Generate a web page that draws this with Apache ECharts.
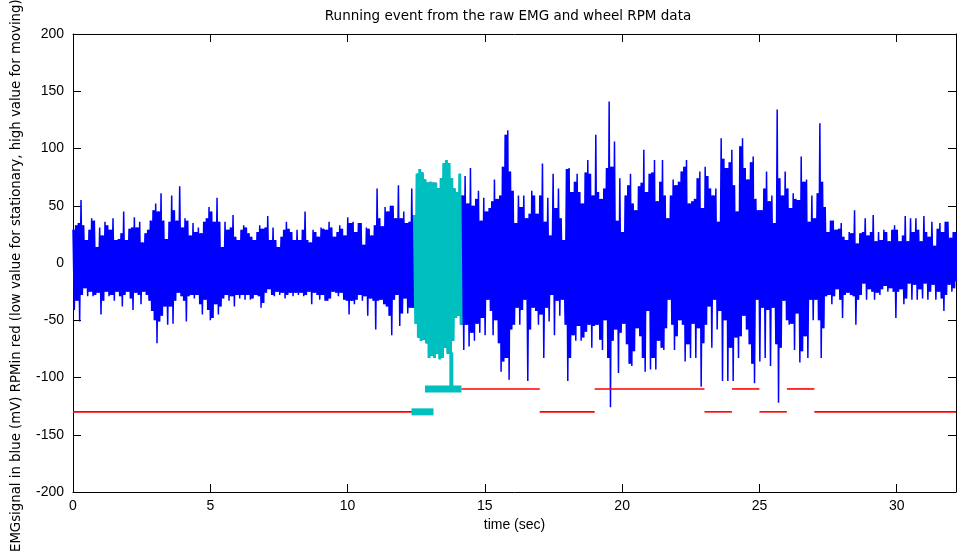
<!DOCTYPE html>
<html>
<head>
<meta charset="utf-8">
<title>Running event from the raw EMG and wheel RPM data</title>
<script src="https://cdn.jsdelivr.net/npm/echarts@6/dist/echarts.min.js"></script>
<style>
  html, body { margin: 0; padding: 0; background: #fff; }
  #chart { width: 957px; height: 556px; }
</style>
</head>
<body>
<div id="chart"></div>
<script>
// EMG envelope: peak (upper) and trough (lower) value in each time bin, mV
const emgStep = 0.09715; // seconds per bin
const emgUpper = [
  29,33,35,55,33,20,29,39,37,14, 31,24,36,33,29,39,20,21,26,45,
  20,30,31,40,31,36,18,26,29,37, 46,52,45,61,37,21,36,59,46,37,
  67,31,39,37,24,35,27,31,26,36, 39,49,45,36,57,36,14,36,29,31,
  42,23,20,29,33,31,26,23,20,27, 33,30,31,41,20,31,20,14,23,29,
  36,30,27,20,29,20,29,45,20,18, 29,27,23,31,30,29,36,31,23,27,
  33,30,24,40,35,36,27,35,35,16, 31,30,
  24,33,65,39,32,49,45,50,50,39, 68,39,45,35,36,65,42,78,82,79,
  73,70,71,70,70,65,74,87,90,87, 74,65,62,78,59,76,52,83,50,56,
  63,37,57,45,48,54,73,56,59,84, 112,116,80,63,35,59,49,59,39,43,
  63,59,43,59,87,36,57,24,78,48, 65,39,20,82,83,62,71,78,62,52,
  79,90,78,59,112,62,56,65,83,141, 84,106,37,74,27,59,68,78,52,46,
  67,70,99,62,78,79,90,54,71,90, 59,39,59,
  73,68,71,80,84,90,52,54,56,74, 80,48,84,76,65,59,65,36,109,91,
  83,88,99,68,45,102,109,83,73,88, 93,56,46,46,65,80,54,59,35,134,
  74,59,80,65,48,61,56,55,93,71, 73,36,59,39,61,122,71,49,27,37,
  37,29,30,35,23,20,27,26,46,17, 26,27,39,24,27,42,19,27,20,29,
  27,19,29,33,29,19,24,41,19,39, 27,39,29,19,41,27,23,36,15,30,
  35,27,36,36,22,27,27
];
const emgLower = [
  -41,-33,-51,-28,-22,-29,-25,-29,-28,-26, -45,-33,-25,-29,-28,-33,-25,-29,-38,-28,
  -25,-31,-41,-26,-28,-36,-25,-28,-33,-42, -50,-70,-51,-46,-38,-54,-38,-53,-33,-26,
  -29,-33,-51,-29,-28,-31,-28,-36,-45,-32, -41,-50,-48,-36,-45,-38,-31,-28,-33,-29,
  -38,-28,-31,-28,-32,-28,-32,-31,-28,-29, -39,-35,-26,-23,-28,-29,-25,-28,-26,-31,
  -28,-26,-29,-26,-28,-26,-29,-28,-25,-36, -26,-28,-32,-28,-33,-33,-31,-25,-26,-29,
  -26,-32,-33,-45,-33,-36,-32,-28,-33,-29, -46,-31,
  -33,-58,-33,-32,-36,-38,-46,-63,-32,-28, -55,-44,-31,-44,-39,-39,-53,-65,-68,-67,
  -70,-83,-81,-83,-79,-84,-83,-74,-79,-79, -68,-48,-46,-54,-76,-54,-73,-61,-68,-53,
  -61,-48,-63,-32,-42,-63,-50,-70,-95,-86, -83,-102,-58,-54,-39,-54,-41,-32,-103,-58,
  -39,-42,-54,-45,-83,-39,-51,-28,-63,-33, -46,-32,-54,-103,-83,-63,-68,-55,-68,-65,
  -60,-54,-74,-55,-54,-67,-76,-50,-83,-126, -68,-58,-96,-61,-53,-71,-88,-90,-77,-57,
  -64,-83,-95,-42,-93,-83,-93,-68,-74,-76, -57,-32,-54,
  -76,-64,-50,-54,-86,-71,-83,-53,-83,-57, -108,-70,-54,-38,-74,-32,-58,-42,-103,-50,
  -103,-74,-103,-65,-83,-64,-46,-58,-71,-88, -105,-32,-86,-39,-83,-41,-90,-39,-71,-122,
  -74,-33,-50,-54,-53,-76,-44,-87,-77,-64, -83,-32,-50,-32,-50,-83,-57,-29,-28,-36,
  -29,-23,-32,-48,-28,-26,-28,-29,-54,-32, -28,-18,-32,-23,-25,-32,-26,-28,-23,-20,
  -25,-22,-25,-48,-25,-23,-36,-31,-18,-32, -19,-32,-23,-31,-18,-32,-25,-19,-32,-25,
  -31,-42,-28,-19,-25,-22,-16
];

// Running event window (sec), highlighted in cyan
const eventWindow = [12.38, 14.15];

// Wheel RPM state: [start sec, end sec, level]
const rpmSegments = [
  [0, 12.35, -130],
  [14.15, 17, -110],
  [17, 19, -130],
  [19, 23, -110],
  [23, 24, -130],
  [24, 25, -110],
  [25, 26, -130],
  [26, 27, -110],
  [27, 32.16, -130]
];
// RPM samples inside the running event
const eventRpmSegments = [
  [12.33, 13.13, -130],
  [12.82, 14.15, -110]
];
// [time, from, to] link from the RPM trace up to the EMG trace
const eventStem = [13.78, -110, -78];

const xTicks = { min: 0, max: 32.16, interval: 5 };
const yTicks = { min: -200, max: 200, interval: 50 };

const BLUE = '#0000ff';
const CYAN = '#00bfbf';
const RED = '#ff0000';
const FONT = '"Liberation Sans", Arial, Helvetica, sans-serif';
const WIDE_FONT = '"DejaVu Sans", Verdana, sans-serif';

const binCount = Math.min(emgUpper.length, emgLower.length);
const binTime = i => i * emgStep;
const inEvent = t => t >= eventWindow[0] && t <= eventWindow[1];

// Peak/trough pairs: every bin is drawn as a stroke spanning its full range
function envelopeTrace(filter) {
  const pts = [];
  for (let i = 0; i < binCount; i++) {
    const t = binTime(i);
    if (filter && !filter(t)) continue;
    pts.push([t, emgUpper[i]]);
    pts.push([t + emgStep / 2, emgLower[i]]);
  }
  return pts;
}
const emgAll = envelopeTrace(null);
const emgEvent = envelopeTrace(inEvent);

// Dense body of the signal: between two neighbouring bins the trace always
// covers the range both of them reach, so that band is drawn solid.
function bodyRenderer(color, filter) {
  return function (params, api) {
    const top = [], bottom = [];
    for (let i = 0; i < binCount - 1; i++) {
      const t0 = binTime(i), t1 = binTime(i + 1);
      if (filter && !(filter(t0) && filter(t1))) continue;
      const hi = Math.min(emgUpper[i], emgUpper[i + 1]);
      const lo = Math.max(emgLower[i], emgLower[i + 1]);
      top.push(api.coord([t0, hi]), api.coord([t1, hi]));
      bottom.push(api.coord([t0 + emgStep / 2, lo]), api.coord([t1 + emgStep / 2, lo]));
    }
    if (!top.length) return null;
    return {
      type: 'polygon',
      shape: { points: top.concat(bottom.reverse()) },
      style: { fill: color }
    };
  };
}

function segmentRenderer(color, width) {
  return function (params, api) {
    const a = api.coord([api.value(0), api.value(2)]);
    const b = api.coord([api.value(1), api.value(2)]);
    return {
      type: 'line',
      shape: { x1: a[0], y1: a[1], x2: b[0], y2: b[1] },
      style: { stroke: color, lineWidth: width, lineCap: 'butt' }
    };
  };
}

const axisLineStyle = { lineStyle: { color: '#000', width: 1 } };
const tickStyle = { show: true, inside: true, length: 8, lineStyle: { color: '#000', width: 1 } };

const chart = echarts.init(document.getElementById('chart'), null, { renderer: 'canvas' });
chart.setOption({
  animation: false,
  backgroundColor: '#fff',
  grid: { left: 73, right: 1, top: 34, bottom: 64, containLabel: false },
  xAxis: [
    {
      type: 'value', position: 'bottom',
      min: xTicks.min, max: xTicks.max, interval: xTicks.interval,
      axisLine: Object.assign({ show: true, onZero: false }, axisLineStyle),
      axisTick: tickStyle,
      axisLabel: { color: '#000', fontFamily: FONT, fontSize: 14, margin: 7, showMaxLabel: false },
      splitLine: { show: false },
      name: 'time (sec)', nameLocation: 'middle', nameGap: 26,
      nameTextStyle: { color: '#000', fontFamily: FONT, fontSize: 14 }
    },
    {
      type: 'value', position: 'top',
      min: xTicks.min, max: xTicks.max, interval: xTicks.interval,
      axisLine: Object.assign({ show: true, onZero: false }, axisLineStyle),
      axisTick: tickStyle,
      axisLabel: { show: false },
      splitLine: { show: false }
    }
  ],
  yAxis: [
    {
      type: 'value', position: 'left',
      min: yTicks.min, max: yTicks.max, interval: yTicks.interval,
      axisLine: Object.assign({ show: true, onZero: false }, axisLineStyle),
      axisTick: tickStyle,
      axisLabel: { color: '#000', fontFamily: FONT, fontSize: 14, margin: 9 },
      splitLine: { show: false }
    },
    {
      type: 'value', position: 'right',
      min: yTicks.min, max: yTicks.max, interval: yTicks.interval,
      axisLine: Object.assign({ show: true, onZero: false }, axisLineStyle),
      axisTick: tickStyle,
      axisLabel: { show: false },
      splitLine: { show: false }
    }
  ],
  graphic: [
    {
      type: 'text',
      x: 508, y: 16,
      style: {
        text: 'Running event from the raw EMG and wheel RPM data',
        font: '13.5px ' + WIDE_FONT,
        fill: '#000',
        align: 'center',
        verticalAlign: 'middle'
      }
    },
    {
      type: 'text',
      x: 17, y: 552,
      rotation: Math.PI / 2,
      style: {
        text: 'EMGsignal in blue (mV) RPMin red (low value for stationary, high value for moving)',
        font: '13.3px ' + WIDE_FONT,
        fill: '#000',
        align: 'left',
        verticalAlign: 'middle'
      }
    }
  ],
  series: [
    {
      name: 'EMG body', type: 'custom', data: [[0, 0]],
      xAxisIndex: 0, yAxisIndex: 0,
      renderItem: bodyRenderer(BLUE, null),
      silent: true, z: 1
    },
    {
      name: 'EMG', type: 'line', data: emgAll,
      xAxisIndex: 0, yAxisIndex: 0,
      showSymbol: false, symbol: 'none', sampling: null,
      lineStyle: { color: BLUE, width: 1.5 },
      z: 2
    },
    {
      name: 'EMG body (running event)', type: 'custom', data: [[0, 0]],
      xAxisIndex: 0, yAxisIndex: 0,
      renderItem: bodyRenderer(CYAN, inEvent),
      silent: true, z: 3
    },
    {
      name: 'EMG (running event)', type: 'line', data: emgEvent,
      xAxisIndex: 0, yAxisIndex: 0,
      showSymbol: false, symbol: 'none',
      lineStyle: { color: CYAN, width: 3 },
      z: 3
    },
    {
      name: 'RPM', type: 'custom', data: rpmSegments,
      xAxisIndex: 0, yAxisIndex: 0,
      encode: { x: [0, 1], y: 2 },
      renderItem: segmentRenderer(RED, 1.6),
      z: 4
    },
    {
      name: 'RPM (running event)', type: 'custom', data: eventRpmSegments,
      xAxisIndex: 0, yAxisIndex: 0,
      encode: { x: [0, 1], y: 2 },
      renderItem: segmentRenderer(CYAN, 7),
      z: 5
    },
    {
      name: 'Event link', type: 'custom', data: [eventStem],
      xAxisIndex: 0, yAxisIndex: 0,
      encode: { x: 0, y: [1, 2] },
      renderItem: function (params, api) {
        const a = api.coord([api.value(0), api.value(1)]);
        const b = api.coord([api.value(0), api.value(2)]);
        return {
          type: 'line',
          shape: { x1: a[0], y1: a[1], x2: b[0], y2: b[1] },
          style: { stroke: CYAN, lineWidth: 4 }
        };
      },
      z: 5
    }
  ]
});
</script>
</body>
</html>
